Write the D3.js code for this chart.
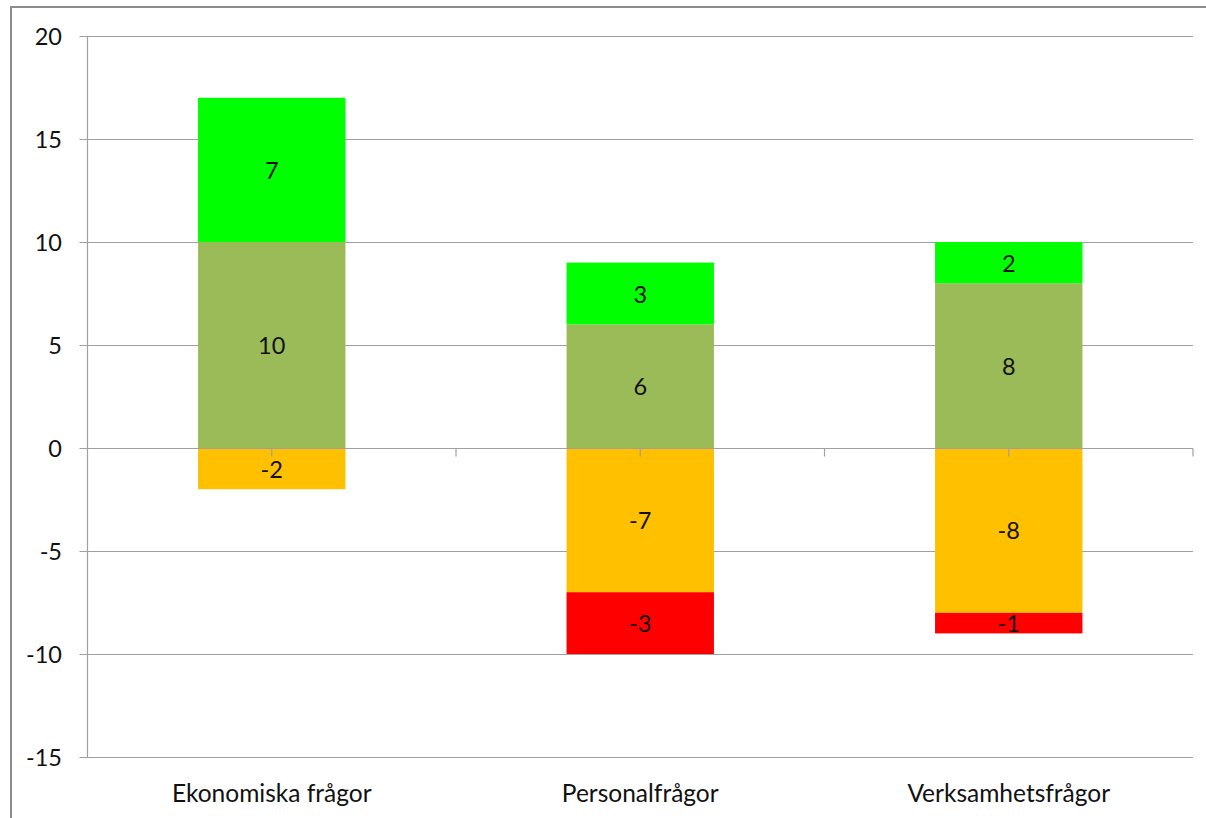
<!DOCTYPE html>
<html><head><meta charset="utf-8">
<script src="https://cdn.jsdelivr.net/npm/d3@7"></script>
<style>body{margin:0;background:#fff;overflow:hidden}svg{display:block}text{font-family:Lato,"Open Sans",sans-serif;fill:#111}</style>
</head><body>
<svg id="c" width="1206" height="818"></svg>
<script>
const categories = ["Ekonomiska frågor", "Personalfrågor", "Verksamhetsfrågor"];
const seriesNames = ["Mycket positiv", "Positiv", "Negativ", "Mycket negativ"];
const brightGreen = [7, 3, 2];
const oliveGreen = [10, 6, 8];
const orange = [-2, -7, -8];
const red = [0, -3, -1];
const yTicks = [20, 15, 10, 5, 0, -5, -10, -15];
const colors = ["#00FF00", "#9BBB59", "#FFC000", "#FF0000"];

(function () {
const svg = d3.select("#c");
svg.append("rect").attr("x", 11).attr("y", 7).attr("width", 1300).attr("height", 900)
  .attr("fill", "none").attr("stroke", "#8c8c8c").attr("stroke-width", 2);

const pLeft = 87.5, pRight = 1193, pTop = 36, pBottom = 757;
const y = d3.scaleLinear().domain([-15, 20]).range([pBottom, pTop]);
const x = d3.scaleBand().domain(categories).range([pLeft, pRight]).paddingInner(0.6).paddingOuter(0.3);

// gridlines
svg.selectAll("line.grid").data(yTicks).join("line")
  .attr("x1", pLeft - 8).attr("x2", pRight)
  .attr("y1", d => Math.round(y(d)) + 0.5).attr("y2", d => Math.round(y(d)) + 0.5)
  .attr("stroke", "#a0a0a0").attr("stroke-width", 1.2);

// bars
const stacks = [
  {vals: oliveGreen, base: () => 0, c: colors[1]},
  {vals: brightGreen, base: (i) => oliveGreen[i], c: colors[0]},
  {vals: orange, base: () => 0, c: colors[2]},
  {vals: red, base: (i) => orange[i], c: colors[3]}
];
const labels = [];
stacks.forEach(s => {
  categories.forEach((cat, i) => {
    const v = s.vals[i];
    if (!v) return;
    const b = s.base(i), e = b + v;
    const y0 = y(Math.max(b, e)), y1 = y(Math.min(b, e));
    svg.append("rect").attr("x", x(cat)).attr("width", x.bandwidth())
      .attr("y", y0).attr("height", y1 - y0).attr("fill", s.c);
    labels.push({x: x(cat) + x.bandwidth() / 2, y: (y0 + y1) / 2, v});
  });
});

// zero line and ticks
const y0p = Math.round(y(0)) + 0.5;
svg.append("line").attr("x1", pLeft).attr("x2", pRight).attr("y1", y0p).attr("y2", y0p)
  .attr("stroke", "#a0a0a0").attr("stroke-width", 1.2);
const step = (pRight - pLeft) / categories.length;
const tickXs = d3.range(1, categories.length * 2 + 1).map(k => pLeft + k * step / 2);
svg.selectAll("line.xt").data(tickXs).join("line")
  .attr("x1", d => d).attr("x2", d => d).attr("y1", y0p).attr("y2", y0p + 8)
  .attr("stroke", "#a0a0a0").attr("stroke-width", 1.2);

// y axis line
svg.append("line").attr("x1", pLeft).attr("x2", pLeft).attr("y1", pTop).attr("y2", pBottom)
  .attr("stroke", "#a0a0a0").attr("stroke-width", 1.2);

// data labels
svg.selectAll("text.dl").data(labels).join("text")
  .attr("x", d => d.x).attr("y", d => d.y).attr("text-anchor", "middle")
  .attr("dominant-baseline", "central").attr("font-size", 23.5).text(d => d.v);

// y tick labels
svg.selectAll("text.yl").data(yTicks).join("text")
  .attr("x", 62).attr("y", d => y(d)).attr("text-anchor", "end")
  .attr("dominant-baseline", "central").attr("font-size", 23.5).text(d => d);

// category labels
svg.selectAll("text.xl").data(categories).join("text")
  .attr("x", d => x(d) + x.bandwidth() / 2).attr("y", 792).attr("text-anchor", "middle")
  .attr("dominant-baseline", "central").attr("font-size", 24.5).text(d => d);
})();
</script>
</body></html>
